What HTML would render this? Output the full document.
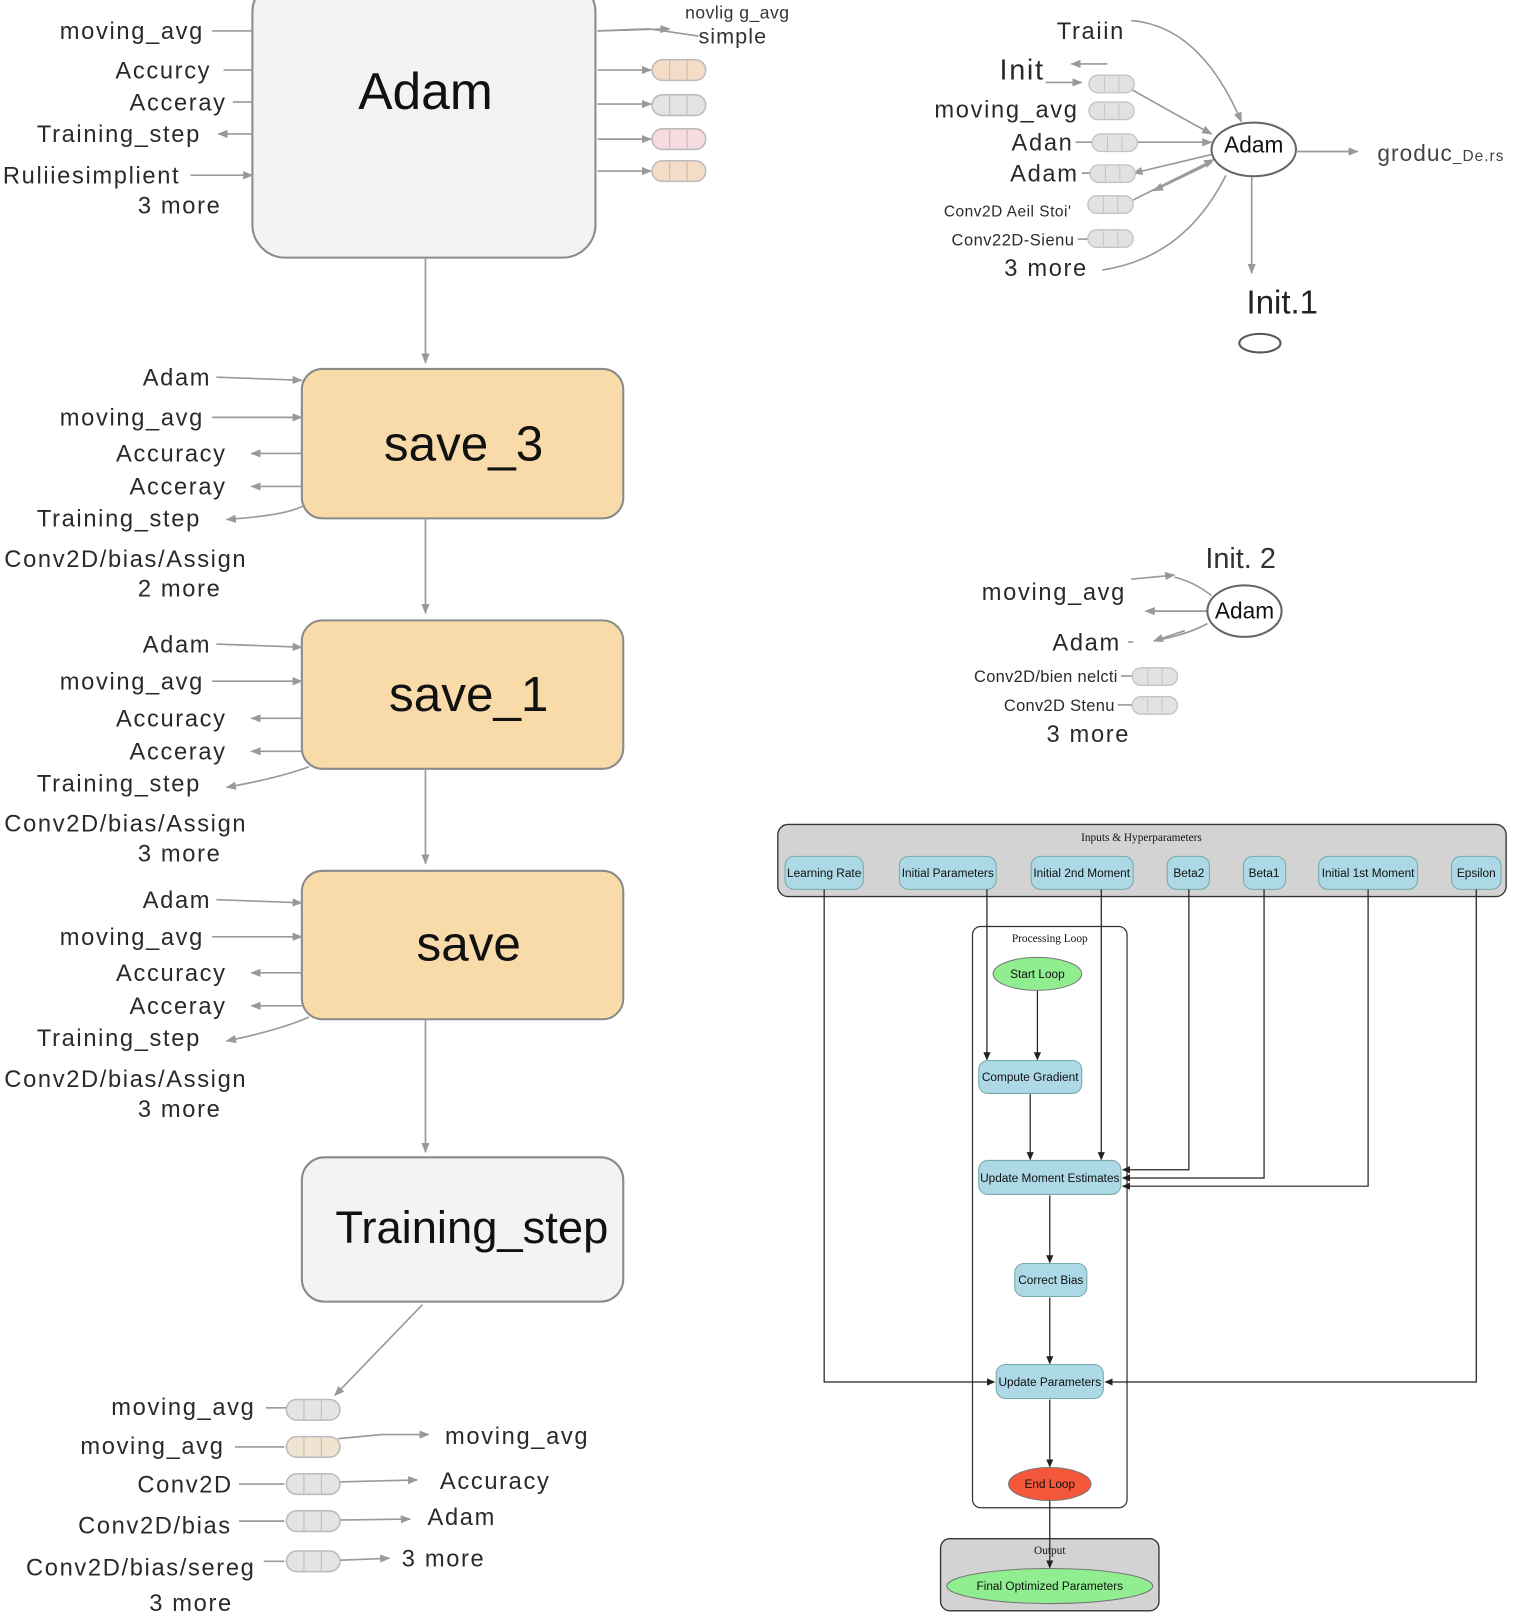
<!DOCTYPE html>
<html><head><meta charset="utf-8"><style>
html,body{margin:0;padding:0;background:#fff}
svg{display:block}
.l{font-family:"Liberation Sans",sans-serif;fill:#2a2a2a;font-size:23px;letter-spacing:1.6px}
.s{font-family:"Liberation Serif",serif;fill:#111;font-size:11px}
.f{font-family:"Liberation Sans",sans-serif;fill:#111;font-size:11.5px}
.g{stroke:#999;stroke-width:1.6;fill:none}
.k{stroke:#222;stroke-width:1.2;fill:none}
</style></head><body>
<svg width="1535" height="1618" viewBox="0 0 1490 1570" preserveAspectRatio="none" xmlns="http://www.w3.org/2000/svg">
<defs>
<marker id="ga" markerWidth="10" markerHeight="10" refX="9" refY="5" orient="auto" markerUnits="userSpaceOnUse"><path d="M0,1 L10,5 L0,9 z" fill="#999"/></marker>
<marker id="ka" markerWidth="8" markerHeight="8" refX="7" refY="4" orient="auto" markerUnits="userSpaceOnUse"><path d="M0,0.5 L8,4 L0,7.5 z" fill="#222"/></marker>
<g id="pill"><rect x="0" y="0" width="52" height="20" rx="10" stroke="#bbb" stroke-width="1.5"/><line x1="17" y1="1" x2="17" y2="19" stroke="#bbb"/><line x1="34" y1="1" x2="34" y2="19" stroke="#bbb"/></g>
<g id="sp"><rect x="0" y="0" width="44" height="17" rx="8.5" fill="#e2e2e2" stroke="#c4c4c4" stroke-width="1.3"/><line x1="15" y1="1" x2="15" y2="16" stroke="#c4c4c4"/><line x1="29" y1="1" x2="29" y2="16" stroke="#c4c4c4"/></g>
</defs>

<rect x="245" y="-20" width="333" height="270" rx="32" fill="#f3f3f3" stroke="#8a8a8a" stroke-width="2"/>
<text x="413" y="106" text-anchor="middle" style="font-family:'Liberation Sans',sans-serif;font-size:50px;fill:#111">Adam</text>
<g class="l" text-anchor="end">
<text x="198" y="38">moving_avg</text>
<text x="205" y="76">Accurcy</text>
<text x="220" y="107">Acceray</text>
<text x="195" y="138">Training_step</text>
<text x="175" y="178">Ruliiesimplient</text>
<text x="215" y="207">3 more</text>
</g>
<path class="g" d="M206,30 H245 M217,68 H245 M226,99 H245"/>
<path class="g" d="M245,130 H212" marker-end="url(#ga)"/>
<path class="g" d="M185,170 H245" marker-end="url(#ga)"/>
<text x="665" y="18" style="font-family:'Liberation Sans',sans-serif;font-size:17px;fill:#333;letter-spacing:0.5px">novlig  g_avg</text>
<text x="678" y="42" style="font-family:'Liberation Sans',sans-serif;font-size:21px;fill:#333;letter-spacing:1px">simple</text>
<path class="g" d="M580,30 L630,28 L678,35" />
<path class="g" d="M580,30 L650,28" marker-end="url(#ga)"/>
<path class="g" d="M580,68 H632" marker-end="url(#ga)"/>
<path class="g" d="M580,101 H632" marker-end="url(#ga)"/>
<path class="g" d="M580,135 H632" marker-end="url(#ga)"/>
<path class="g" d="M580,166 H632" marker-end="url(#ga)"/>
<use href="#pill" x="633" y="58" fill="#f4dcc6"/>
<use href="#pill" x="633" y="92" fill="#e4e4e4"/>
<use href="#pill" x="633" y="125" fill="#f6dbe0"/>
<use href="#pill" x="633" y="156" fill="#f4dcc6"/>
<path class="g" d="M413,250 V352" marker-end="url(#ga)"/>

<rect x="293" y="358" width="312" height="145" rx="20" fill="#f8dba9" stroke="#8a8a8a" stroke-width="2"/>
<text x="450" y="447" text-anchor="middle" style="font-family:'Liberation Sans',sans-serif;font-size:48px;fill:#111">save_3</text>
<rect x="293" y="602" width="312" height="144" rx="20" fill="#f8dba9" stroke="#8a8a8a" stroke-width="2"/>
<text x="455" y="690" text-anchor="middle" style="font-family:'Liberation Sans',sans-serif;font-size:48px;fill:#111">save_1</text>
<rect x="293" y="845" width="312" height="144" rx="20" fill="#f8dba9" stroke="#8a8a8a" stroke-width="2"/>
<text x="455" y="932" text-anchor="middle" style="font-family:'Liberation Sans',sans-serif;font-size:48px;fill:#111">save</text>

<g class="l" text-anchor="end">
<text x="205" y="374">Adam</text><text x="198" y="413">moving_avg</text><text x="220" y="448">Accuracy</text><text x="220" y="480">Acceray</text><text x="195" y="511">Training_step</text>
<text x="240" y="550">Conv2D/bias/Assign</text><text x="215" y="579">2 more</text>
<text x="205" y="633">Adam</text><text x="198" y="669">moving_avg</text><text x="220" y="705">Accuracy</text><text x="220" y="737">Acceray</text><text x="195" y="768">Training_step</text>
<text x="240" y="807">Conv2D/bias/Assign</text><text x="215" y="836">3 more</text>
<text x="205" y="881">Adam</text><text x="198" y="917">moving_avg</text><text x="220" y="952">Accuracy</text><text x="220" y="984">Acceray</text><text x="195" y="1015">Training_step</text>
<text x="240" y="1055">Conv2D/bias/Assign</text><text x="215" y="1084">3 more</text>
</g>
<g>
<path class="g" d="M210,366 L293,369" marker-end="url(#ga)"/><path class="g" d="M206,405 H293" marker-end="url(#ga)"/>
<path class="g" d="M293,440 H244" marker-end="url(#ga)"/><path class="g" d="M293,472 H244" marker-end="url(#ga)"/>
<path class="g" d="M296,490 Q280,500 220,504" marker-end="url(#ga)"/>
<path class="g" d="M210,625 L293,628" marker-end="url(#ga)"/><path class="g" d="M206,661 H293" marker-end="url(#ga)"/>
<path class="g" d="M293,697 H244" marker-end="url(#ga)"/><path class="g" d="M293,729 H244" marker-end="url(#ga)"/>
<path class="g" d="M300,744 Q270,755 220,764" marker-end="url(#ga)"/>
<path class="g" d="M210,873 L293,876" marker-end="url(#ga)"/><path class="g" d="M206,909 H293" marker-end="url(#ga)"/>
<path class="g" d="M293,944 H244" marker-end="url(#ga)"/><path class="g" d="M293,976 H244" marker-end="url(#ga)"/>
<path class="g" d="M300,987 Q270,1000 220,1010" marker-end="url(#ga)"/>
</g>
<path class="g" d="M413,503 V595" marker-end="url(#ga)"/>
<path class="g" d="M413,746 V838" marker-end="url(#ga)"/>
<path class="g" d="M413,989 V1118" marker-end="url(#ga)"/>

<rect x="293" y="1123" width="312" height="140" rx="22" fill="#f3f3f3" stroke="#8a8a8a" stroke-width="2"/>
<text x="458" y="1206" text-anchor="middle" style="font-family:'Liberation Sans',sans-serif;font-size:44px;fill:#111">Training_step</text>
<path class="g" d="M410,1266 L325,1354" marker-end="url(#ga)"/>

<g class="l" text-anchor="end">
<text x="248" y="1373">moving_avg</text><text x="218" y="1411">moving_avg</text><text x="226" y="1448">Conv2D</text>
<text x="225" y="1488">Conv2D/bias</text><text x="248" y="1529">Conv2D/bias/sereg</text><text x="226" y="1563">3 more</text>
</g>
<g class="l"><text x="432" y="1401">moving_avg</text><text x="427" y="1445">Accuracy</text><text x="415" y="1480">Adam</text><text x="390" y="1520">3 more</text></g>
<path class="g" d="M258,1366 H278 M228,1404 H276 M232,1440 H276 M232,1476 H276 M256,1515 H276"/>
<path class="g" d="M328,1396 L370,1392 L416,1392" marker-end="url(#ga)"/>
<path class="g" d="M328,1438 L405,1436" marker-end="url(#ga)"/>
<path class="g" d="M328,1475 L398,1474" marker-end="url(#ga)"/>
<path class="g" d="M328,1514 L378,1512" marker-end="url(#ga)"/>
<use href="#pill" x="278" y="1358" fill="#e4e4e4"/>
<use href="#pill" x="278" y="1394" fill="#efe4cf"/>
<use href="#pill" x="278" y="1430" fill="#e4e4e4"/>
<use href="#pill" x="278" y="1466" fill="#e4e4e4"/>
<use href="#pill" x="278" y="1505" fill="#e4e4e4"/>

<g class="l" text-anchor="end">
<text x="1092" y="38">Traiin</text>
<text x="1014" y="77" style="font-size:28px">Init</text>
<text x="1047" y="114">moving_avg</text>
<text x="1042" y="146">Adan</text>
<text x="1047" y="176">Adam</text>
<text x="1040" y="210" style="font-size:15px;letter-spacing:0.5px">Conv2D Aeil Stoi'</text>
<text x="1043" y="238" style="font-size:16px;letter-spacing:0.5px">Conv22D-Sienu</text>
<text x="1056" y="268">3 more</text>
</g>
<path class="g" d="M1075,62 H1040" marker-end="url(#ga)"/>
<path class="g" d="M1015,80 H1050" marker-end="url(#ga)"/>
<path class="g" d="M1098,20 Q1165,25 1205,118" marker-end="url(#ga)"/>
<path class="g" d="M1090,82 Q1130,105 1176,130" marker-end="url(#ga)"/>
<path class="g" d="M1044,138 H1176" marker-end="url(#ga)"/>
<path class="g" d="M1176,150 L1100,168" marker-end="url(#ga)"/>
<path class="g" d="M1092,198 L1178,155" marker-end="url(#ga)"/>
<path class="g" d="M1176,158 L1120,185" marker-end="url(#ga)"/>
<path class="g" d="M1046,232 H1058 M1050,168 H1058 M1070,262 Q1150,250 1190,170"/>
<use href="#sp" x="1057" y="73"/><use href="#sp" x="1057" y="99"/><use href="#sp" x="1060" y="130"/>
<use href="#sp" x="1058" y="160"/><use href="#sp" x="1056" y="190"/><use href="#sp" x="1056" y="223"/>
<ellipse cx="1217" cy="145" rx="41" ry="26" fill="#fff" stroke="#666" stroke-width="2"/>
<text x="1217" y="148" text-anchor="middle" style="font-family:'Liberation Sans',sans-serif;font-size:22px;fill:#111">Adam</text>
<path class="g" d="M1258,147 H1318" marker-end="url(#ga)"/>
<text x="1337" y="156" style="font-family:'Liberation Sans',sans-serif;font-size:22px;fill:#444;letter-spacing:1px">groduc<tspan style="font-size:15px">_De.rs</tspan></text>
<path class="g" d="M1215,172 V265" marker-end="url(#ga)"/>
<text x="1210" y="304" style="font-family:'Liberation Sans',sans-serif;font-size:32px;fill:#222">Init.1</text>
<ellipse cx="1223" cy="333" rx="20" ry="9" fill="#fff" stroke="#555" stroke-width="2"/>

<text x="1170" y="551" style="font-family:'Liberation Sans',sans-serif;font-size:28px;fill:#333">Init. 2</text>
<g class="l" text-anchor="end">
<text x="1093" y="582">moving_avg</text><text x="1088" y="631">Adam</text>
<text x="1085" y="662" style="font-size:16px;letter-spacing:0.3px">Conv2D/bien nelcti</text>
<text x="1082" y="690" style="font-size:16px;letter-spacing:0.3px">Conv2D Stenu</text>
<text x="1097" y="720">3 more</text>
</g>
<path class="g" d="M1098,562 L1140,558" marker-end="url(#ga)"/>
<path class="g" d="M1140,560 Q1160,565 1176,578"/>
<path class="g" d="M1172,593 H1112" marker-end="url(#ga)"/>
<path class="g" d="M1095,623 H1100 M1172,605 Q1155,615 1120,622" />
<path class="g" d="M1150,612 L1120,622" marker-end="url(#ga)"/>
<path class="g" d="M1088,656 H1100 M1085,684 H1100"/>
<use href="#sp" x="1099" y="648"/><use href="#sp" x="1099" y="676"/>
<ellipse cx="1208" cy="593" rx="36" ry="25" fill="#fff" stroke="#666" stroke-width="2"/>
<text x="1208" y="600" text-anchor="middle" style="font-family:'Liberation Sans',sans-serif;font-size:22px;fill:#111">Adam</text>

<rect x="755" y="800" width="707" height="70" rx="10" fill="#d3d3d3" stroke="#333" stroke-width="1.3"/>
<text class="s" x="1108" y="816" text-anchor="middle">Inputs &amp; Hyperparameters</text>
<g fill="#add8e6" stroke="#7aa" stroke-width="1">
<rect x="762" y="831" width="76" height="32" rx="9"/>
<rect x="873" y="831" width="94" height="32" rx="9"/>
<rect x="1001" y="831" width="99" height="32" rx="9"/>
<rect x="1133" y="831" width="41" height="32" rx="9"/>
<rect x="1207" y="831" width="41" height="32" rx="9"/>
<rect x="1280" y="831" width="96" height="32" rx="9"/>
<rect x="1409" y="831" width="48" height="32" rx="9"/>
</g>
<g class="f" text-anchor="middle">
<text x="800" y="851">Learning Rate</text><text x="920" y="851">Initial Parameters</text><text x="1050" y="851">Initial 2nd Moment</text>
<text x="1154" y="851">Beta2</text><text x="1227" y="851">Beta1</text><text x="1328" y="851">Initial 1st Moment</text><text x="1433" y="851">Epsilon</text>
</g>
<rect x="944" y="899" width="150" height="564" rx="8" fill="#fff" stroke="#333" stroke-width="1.2"/>
<text class="s" x="1019" y="914" text-anchor="middle">Processing Loop</text>
<rect x="913" y="1493" width="212" height="70" rx="9" fill="#d3d3d3" stroke="#333" stroke-width="1.3"/>
<text class="s" x="1019" y="1508" text-anchor="middle">Output</text>

<path class="k" d="M800,863 V1341 H965" marker-end="url(#ka)"/>
<path class="k" d="M958,863 V1028" marker-end="url(#ka)"/>
<path class="k" d="M1007,961 V1028" stroke-width="2" marker-end="url(#ka)"/>
<path class="k" d="M1069,863 V1125" marker-end="url(#ka)"/>
<path class="k" d="M1000,1061 V1125" stroke-width="2" marker-end="url(#ka)"/>
<path class="k" d="M1154,863 V1135 H1090" marker-end="url(#ka)"/>
<path class="k" d="M1227,863 V1143 H1090" marker-end="url(#ka)"/>
<path class="k" d="M1328,863 V1151 H1090" marker-end="url(#ka)"/>
<path class="k" d="M1433,863 V1341 H1073" marker-end="url(#ka)"/>
<path class="k" d="M1019,1160 V1225" marker-end="url(#ka)"/>
<path class="k" d="M1019,1259 V1323" marker-end="url(#ka)"/>
<path class="k" d="M1019,1358 V1423" marker-end="url(#ka)"/>

<ellipse cx="1007" cy="945" rx="43" ry="16" fill="#90ee90" stroke="#777"/>
<text class="f" x="1007" y="949" text-anchor="middle">Start Loop</text>
<g fill="#add8e6" stroke="#7aa">
<rect x="950" y="1029" width="100" height="32" rx="9"/>
<rect x="950" y="1126" width="138" height="33" rx="9"/>
<rect x="985" y="1226" width="70" height="32" rx="9"/>
<rect x="967" y="1324" width="104" height="33" rx="9"/>
</g>
<g class="f" text-anchor="middle">
<text x="1000" y="1049">Compute Gradient</text><text x="1019" y="1147">Update Moment Estimates</text>
<text x="1020" y="1246">Correct Bias</text><text x="1019" y="1345">Update Parameters</text>
</g>
<ellipse cx="1019" cy="1440" rx="40" ry="16" fill="#f5573b" stroke="#777"/>
<text class="f" x="1019" y="1444" text-anchor="middle">End Loop</text>
<ellipse cx="1019" cy="1539" rx="100" ry="17" fill="#90ee90" stroke="#777"/>
<path class="k" d="M1019,1456 V1521" marker-end="url(#ka)"/>
<text class="f" x="1019" y="1543" text-anchor="middle">Final Optimized Parameters</text>
</svg>
</body></html>
